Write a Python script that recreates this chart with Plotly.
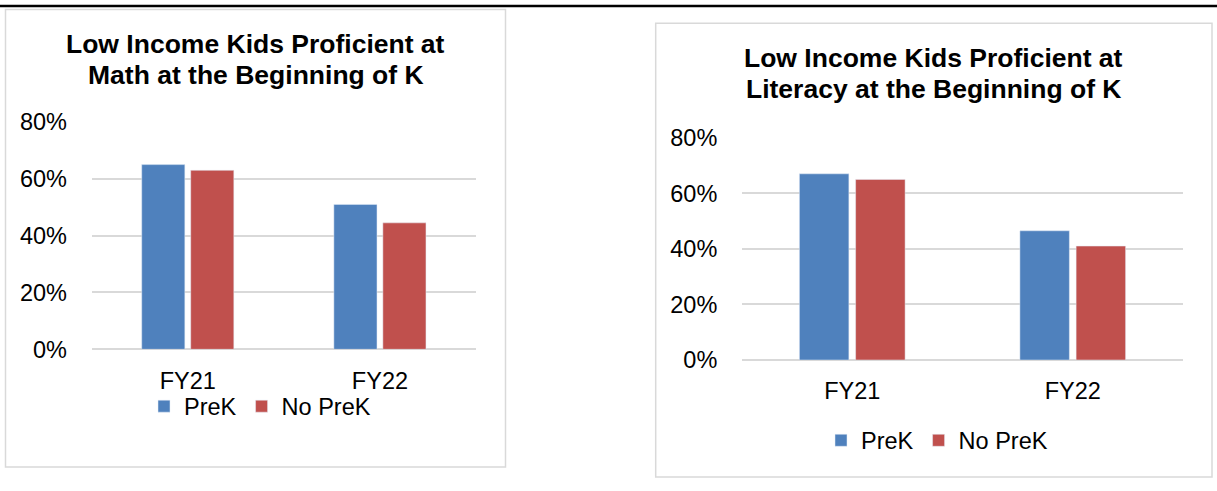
import plotly.graph_objects as go

W, H = 1217, 491

categories = ["FY21", "FY22"]
series_names = ["PreK", "No PreK"]
math_prek = [0.65, 0.51]
math_noprek = [0.63, 0.445]
lit_prek = [0.67, 0.465]
lit_noprek = [0.65, 0.41]
math_title = ["Low Income Kids Proficient at", "Math at the Beginning of K"]
lit_title = ["Low Income Kids Proficient at", "Literacy at the Beginning of K"]
y_ticks = [0, 0.2, 0.4, 0.6, 0.8]

BLUE = "#4F81BD"
RED = "#C0504D"
GRID = "#D9D9D9"
FONT = "Liberation Sans, Arial, sans-serif"
FS = 23.5
TFS = 26.5


def px_x(x):
    return x / W


def px_y(y):
    return 1 - y / H


fig = go.Figure()
fig.add_trace(go.Bar(x=categories, y=math_prek, name=series_names[0], marker_color=BLUE,
                     xaxis="x", yaxis="y", legend="legend"))
fig.add_trace(go.Bar(x=categories, y=math_noprek, name=series_names[1], marker_color=RED,
                     xaxis="x", yaxis="y", legend="legend"))
fig.add_trace(go.Bar(x=categories, y=lit_prek, name=series_names[0], marker_color=BLUE,
                     xaxis="x2", yaxis="y2", legend="legend2"))
fig.add_trace(go.Bar(x=categories, y=lit_noprek, name=series_names[1], marker_color=RED,
                     xaxis="x2", yaxis="y2", legend="legend2"))

yaxis_common = dict(range=[0, 0.8], tickvals=y_ticks, tickformat=".0%", showgrid=True,
                    gridcolor=GRID, gridwidth=2, zeroline=True, zerolinecolor=GRID,
                    zerolinewidth=2, showline=False, ticks="outside", ticklen=19,
                    tickcolor="rgba(0,0,0,0)", tickfont=dict(family=FONT, size=FS, color="#000"),
                    fixedrange=True, automargin=False)
xaxis_common = dict(showgrid=False, showline=False, zeroline=False, ticks="outside",
                    ticklen=10, tickcolor="rgba(0,0,0,0)",
                    tickfont=dict(family=FONT, size=FS, color="#000"), fixedrange=True,
                    automargin=False)

fig.update_layout(
    width=W, height=H, autosize=False,
    margin=dict(l=0, r=0, t=0, b=0, pad=0, autoexpand=False),
    paper_bgcolor="white", plot_bgcolor="white",
    barmode="group", bargap=0.49, bargroupgap=0.12,
    font=dict(family=FONT, size=FS, color="#000"),
    xaxis=dict(domain=[px_x(91.7), px_x(476)], anchor="y", **xaxis_common),
    yaxis=dict(domain=[px_y(349.3), px_y(122)], anchor="x", **yaxis_common),
    xaxis2=dict(domain=[px_x(742), px_x(1183)], anchor="y2", **xaxis_common),
    yaxis2=dict(domain=[px_y(360), px_y(137.7)], anchor="x2", **yaxis_common),
    legend=dict(orientation="h", x=px_x(260), xanchor="center", y=px_y(406.4), yanchor="middle",
                bgcolor="rgba(0,0,0,0)", font=dict(family=FONT, size=FS, color="#000"),
                itemwidth=30),
    legend2=dict(orientation="h", x=px_x(937), xanchor="center", y=px_y(440.5), yanchor="middle",
                 bgcolor="rgba(0,0,0,0)", font=dict(family=FONT, size=FS, color="#000"),
                 itemwidth=30),
    showlegend=True,
)

# panel borders and top rule
fig.add_shape(type="line", xref="paper", yref="paper", x0=0, x1=1, y0=px_y(6), y1=px_y(6),
              line=dict(color="black", width=2.5))
fig.add_shape(type="rect", xref="paper", yref="paper", x0=px_x(5.5), x1=px_x(505.5),
              y0=px_y(467), y1=px_y(9.5), line=dict(color=GRID, width=1.5))
fig.add_shape(type="rect", xref="paper", yref="paper", x0=px_x(655.7), x1=px_x(1212),
              y0=px_y(477), y1=px_y(23.3), line=dict(color=GRID, width=1.5))

for lines, cx, centers in ((math_title, 255.5, (44, 75)), (lit_title, 934, (58, 89))):
    for line, cy in zip(lines, centers):
        fig.add_annotation(text="<b>" + line + "</b>", xref="paper", yref="paper",
                           x=px_x(cx), y=px_y(cy), xanchor="center", yanchor="middle",
                           showarrow=False, font=dict(family=FONT, size=TFS, color="#000"))

fig.write_html("out.html", config={"displayModeBar": False},
               post_script="document.body.style.margin='0';document.body.style.overflow='hidden';")
